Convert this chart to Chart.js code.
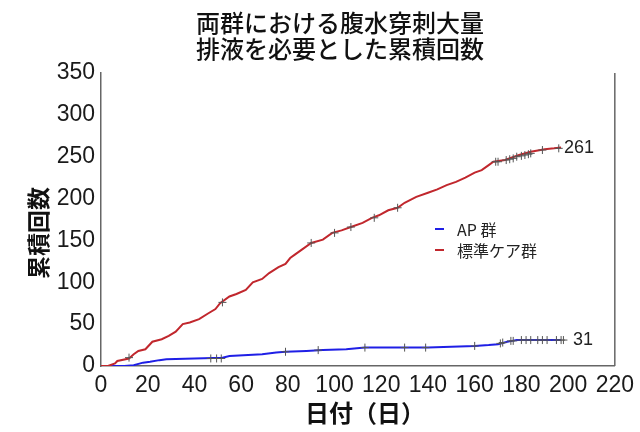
<!DOCTYPE html>
<html lang="ja">
<head>
<meta charset="utf-8">
<script src="https://cdn.jsdelivr.net/npm/chart.js@4.4.0/dist/chart.umd.min.js"></script>
<style>
  html, body { margin: 0; padding: 0; background: #fff; }
</style>
</head>
<body>
<canvas id="chart" width="640" height="432"></canvas>
<script>
// 標準ケア群 (赤)
const redDays   = [0, 3, 6, 7, 12, 14, 16, 19, 22, 26, 29, 32, 35, 38, 42, 46, 49, 51, 55, 58, 62, 65, 69, 72, 76, 79, 81, 83, 86, 90, 95, 99, 103, 107, 112, 116, 119, 123, 127, 130, 135, 140, 144, 148, 152, 156, 160, 163, 166, 168, 173, 176, 179, 184, 190, 194, 197];
const redCounts = [0, 0, 3, 6, 9, 14, 18, 20, 29, 32, 36, 41, 50, 52, 56, 63, 68, 75, 83, 86, 91, 100, 104, 111, 118, 122, 129, 133, 139, 147, 151, 159, 162, 166, 171, 177, 180, 186, 189, 195, 202, 207, 211, 216, 220, 225, 231, 234, 240, 244, 246, 249, 252, 256, 259, 260, 261];

// AP 群 (青)
const blueDays   = [0, 10, 14, 18, 21, 25, 28, 40, 52, 55, 63, 69, 75, 79, 88, 95, 105, 113, 125, 140, 150, 160, 166, 170, 174, 176, 178, 197];
const blueCounts = [0, 0, 1, 4, 5, 7, 8, 9, 10, 12, 13, 14, 16, 17, 18, 19, 20, 22, 22, 22, 23, 24, 25, 26, 29, 30, 31, 31];

// 打ち切りマーク
const redCensorDays    = [12, 52, 90, 100, 107, 117, 127, 169, 170, 173.5, 175, 176.5, 178, 180, 181.5, 183, 184, 189, 196];
const redCensorCounts  = [10, 76, 147, 159, 166, 177, 189, 244, 244, 246, 247, 248, 250, 251, 252, 253, 254, 258, 260];
const blueCensorDays   = [47, 49.5, 51.5, 79, 93, 113, 130, 139, 160, 171, 172, 175.5, 176.5, 180, 182, 184, 187, 189, 191, 195, 197, 198];
const blueCensorCounts = [9, 9, 9, 17, 19, 22, 22, 22, 24, 27, 28, 30, 30, 31, 31, 31, 31, 31, 31, 31, 31, 31];

const titleLines = ["両群における腹水穿刺大量", "排液を必要とした累積回数"];
const yTitle = "累積回数";
const xTitle = "日付（日）";
const seriesNames = ["AP 群", "標準ケア群"];
const xTicks = { min: 0, max: 220, step: 20 };
const yTicks = { min: 0, max: 350, step: 50 };

const RED = "#c1272d";
const BLUE = "#1f1fe6";
const JP = "'Noto Sans CJK JP', sans-serif";
const NUM = "'Liberation Sans', Arial, sans-serif";

const pts = (xs, ys) => xs.map((x, i) => ({ x, y: ys[i] }));

const extras = {
  id: "extras",
  afterDraw(chart) {
    const { ctx, chartArea: a, scales: { x, y } } = chart;
    ctx.save();

    // right frame line
    ctx.strokeStyle = "#666";
    ctx.lineWidth = 1.5;
    ctx.beginPath();
    ctx.moveTo(a.right, a.top);
    ctx.lineTo(a.right, a.bottom);
    ctx.stroke();

    // title
    ctx.fillStyle = "#111";
    ctx.textAlign = "center";
    ctx.textBaseline = "middle";
    ctx.font = "500 24px " + JP;
    ctx.fillText(titleLines[0], 340, 23);
    ctx.fillText(titleLines[1], 340, 49);

    // axis titles
    ctx.font = "bold 24px " + JP;
    ctx.fillText(xTitle, 365, 413);
    ctx.save();
    ctx.translate(38, 233);
    ctx.rotate(-Math.PI / 2);
    ctx.font = "bold 23px " + JP;
    ctx.fillText(yTitle, 0, 0);
    ctx.restore();

    // legend
    const legend = [[seriesNames[0], BLUE, 229], [seriesNames[1], RED, 250]];
    ctx.textAlign = "left";
    ctx.font = "16px " + JP;
    legend.forEach(([name, col, ly]) => {
      ctx.strokeStyle = col;
      ctx.lineWidth = 2;
      ctx.beginPath();
      ctx.moveTo(435, ly);
      ctx.lineTo(444, ly);
      ctx.stroke();
      ctx.fillStyle = "#222";
      ctx.fillText(name, 457, ly + 1);
    });

    // end labels
    ctx.font = "18px " + NUM;
    ctx.fillStyle = "#222";
    const rl = redCounts.length - 1, bl = blueCounts.length - 1;
    ctx.fillText(String(redCounts[rl]), x.getPixelForValue(redDays[rl]) + 3, y.getPixelForValue(redCounts[rl]) + 1);
    ctx.fillText(String(blueCounts[bl]), x.getPixelForValue(blueDays[bl]) + 12, y.getPixelForValue(blueCounts[bl]));

    ctx.restore();
  }
};

const censorStyle = {
  showLine: false,
  pointStyle: "cross",
  pointRadius: 4,
  pointBorderColor: "#555",
  pointBorderWidth: 1,
  order: 0
};

new Chart(document.getElementById("chart").getContext("2d"), {
  type: "line",
  data: {
    datasets: [
      { label: seriesNames[1], data: pts(redDays, redCounts), borderColor: RED, borderWidth: 2, pointRadius: 0, tension: 0, order: 1 },
      { label: seriesNames[0], data: pts(blueDays, blueCounts), borderColor: BLUE, borderWidth: 2, pointRadius: 0, tension: 0, order: 1 },
      { label: "censor-red", data: pts(redCensorDays, redCensorCounts), ...censorStyle },
      { label: "censor-blue", data: pts(blueCensorDays, blueCensorCounts), ...censorStyle }
    ]
  },
  options: {
    responsive: false,
    animation: false,
    layout: { padding: { top: 73, right: 21, left: 0, bottom: 0 } },
    plugins: { legend: { display: false }, tooltip: { enabled: false }, title: { display: false } },
    scales: {
      x: {
        type: "linear",
        min: xTicks.min, max: xTicks.max,
        grid: { display: false, drawTicks: false },
        border: { color: "#666", width: 1.5 },
        ticks: { stepSize: xTicks.step, padding: 6, color: "#1a1a1a", font: { family: NUM, size: 23 }, maxRotation: 0 },
        afterFit(s) { s.height = 66; }
      },
      y: {
        min: yTicks.min, max: yTicks.max,
        grid: { display: false, drawTicks: false },
        border: { color: "#666", width: 1.5 },
        ticks: { stepSize: yTicks.step, padding: 6, color: "#1a1a1a", font: { family: NUM, size: 23 } },
        afterFit(s) { s.width = 101; }
      }
    }
  },
  plugins: [extras]
});
</script>
</body>
</html>
